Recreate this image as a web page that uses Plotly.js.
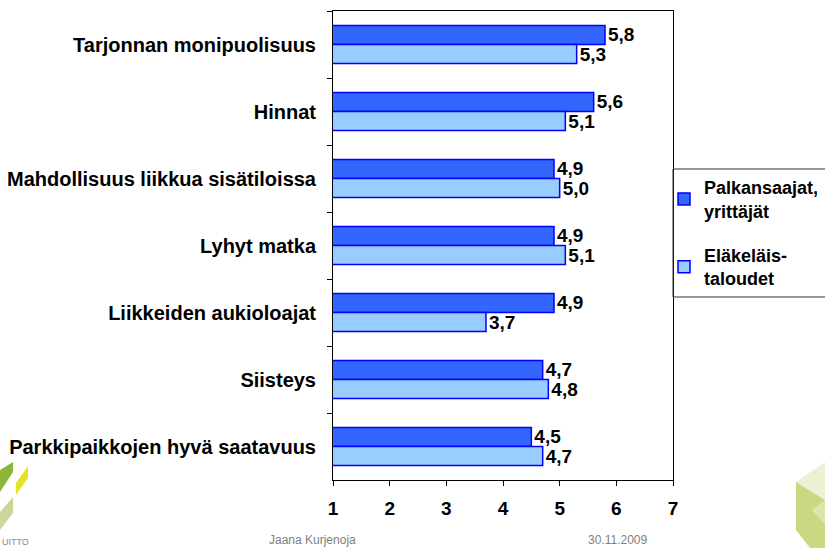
<!DOCTYPE html>
<html>
<head>
<meta charset="utf-8">
<script src="https://cdn.plot.ly/plotly-3.0.1.min.js"></script>
<style>html,body{margin:0;padding:0;background:#fff;}#chart{width:825px;height:548px;}</style>
</head>
<body>
<div id="chart"></div>
<script>
var categories = ["Tarjonnan monipuolisuus", "Hinnat", "Mahdollisuus liikkua sisätiloissa", "Lyhyt matka", "Liikkeiden aukioloajat", "Siisteys", "Parkkipaikkojen hyvä saatavuus"];
var seriesNames = ["Palkansaajat,<br>yrittäjät", "Eläkeläis-<br>taloudet"];
var palkansaajat = [5.8, 5.6, 4.9, 4.9, 4.9, 4.7, 4.5];
var elakelaiset = [5.3, 5.1, 5.0, 5.1, 3.7, 4.8, 4.7];
var xTicks = [1, 2, 3, 4, 5, 6, 7];

var W = 825, H = 548;
var L = 333, R = 673, T = 11, B = 480;
function px(x){ return (x - L) / (R - L); }
function py(y){ return (B - y) / (B - T); }
function path(pts){ return 'M' + pts.map(function(p){ return px(p[0]) + ',' + py(p[1]); }).join(' L') + ' Z'; }

var FAM = '"Liberation Sans", Arial, sans-serif';
var labelFont = {family: FAM, size: 19, color: '#000', weight: 'bold'};

var traces = [
  {type: 'bar', orientation: 'h', name: seriesNames[0], legendgroup: 'g1', y: categories, x: palkansaajat,
   marker: {color: '#3366FF', line: {color: '#0000FF', width: 1.5}},
   texttemplate: '<b>%{x:.1f}</b>', textposition: 'outside', cliponaxis: false, constraintext: 'none',
   textfont: labelFont, hoverinfo: 'skip'},
  {type: 'bar', orientation: 'h', name: seriesNames[1], legendgroup: 'g2', y: categories, x: elakelaiset,
   marker: {color: '#99CCFF', line: {color: '#0000FF', width: 1.5}},
   texttemplate: '<b>%{x:.1f}</b>', textposition: 'outside', cliponaxis: false, constraintext: 'none',
   textfont: labelFont, hoverinfo: 'skip'}
];

var shapes = [
  {type: 'rect', xref: 'paper', yref: 'paper', x0: 1, x1: px(840), y0: py(297), y1: py(169),
   line: {color: '#333', width: 1}, fillcolor: 'rgba(0,0,0,0)'},
  // bottom-left decoration
  {type: 'path', xref: 'paper', yref: 'paper', path: path([[0,470],[13,462],[13,472],[0,492]]), fillcolor: '#8DB53A', line: {width: 0}},
  {type: 'path', xref: 'paper', yref: 'paper', path: path([[28,466],[28,478],[16,495],[16,483]]), fillcolor: '#E6E22A', line: {width: 0}},
  {type: 'path', xref: 'paper', yref: 'paper', path: path([[13,497],[13,513],[0,530],[0,512]]), fillcolor: '#CBD69A', line: {width: 0}},
  // bottom-right decoration
  {type: 'path', xref: 'paper', yref: 'paper', path: path([[825,462],[825,500],[796,482]]), fillcolor: '#EEF0D4', line: {width: 0}},
  {type: 'path', xref: 'paper', yref: 'paper', path: path([[796,482],[825,500],[825,548],[810,548],[796,530]]), fillcolor: '#CAD882', line: {width: 0}},
  {type: 'path', xref: 'paper', yref: 'paper', path: path([[812,510],[825,500],[825,525]]), fillcolor: '#DDE6A8', line: {width: 0}}
];

var layout = {
  width: W, height: H,
  margin: {l: L, r: W - R, t: T, b: H - B, pad: 0, autoexpand: false},
  paper_bgcolor: '#fff', plot_bgcolor: '#fff',
  separators: ', ',
  barmode: 'group', bargap: 0.43, bargroupgap: 0,
  showlegend: true,
  legend: {xref: 'container', yref: 'container', x: 664 / W, xanchor: 'left', y: 1 - 233 / H, yanchor: 'middle',
           bgcolor: 'rgba(0,0,0,0)', borderwidth: 0, traceorder: 'grouped',
           font: {family: FAM, size: 18, color: '#000', weight: 'bold'},
           tracegroupgap: 18, itemwidth: 30},
  xaxis: {range: [1, 7], tickvals: xTicks, ticktext: xTicks.map(String), ticks: 'outside', ticklen: 5, tickcolor: '#000',
          showline: true, linecolor: '#000', linewidth: 1, mirror: true, showgrid: false, zeroline: false,
          tickfont: {family: FAM, size: 19, color: '#000', weight: 'bold'}, ticklabelstandoff: 6},
  yaxis: {type: 'category', autorange: 'reversed', ticks: 'outside', tickson: 'boundaries', ticklen: 5, tickcolor: '#000',
          showline: true, linecolor: '#000', linewidth: 1, mirror: true, showgrid: false,
          tickfont: {family: FAM, size: 20, color: '#000', weight: 'bold'}, ticklabelstandoff: 12},
  shapes: shapes,
  annotations: [
    {xref: 'paper', yref: 'paper', x: px(312), y: py(540), text: 'Jaana Kurjenoja', showarrow: false, xanchor: 'center', yanchor: 'middle',
     font: {family: FAM, size: 12, color: '#7f7f7f'}},
    {xref: 'paper', yref: 'paper', x: px(617), y: py(540), text: '30.11.2009', showarrow: false, xanchor: 'center', yanchor: 'middle',
     font: {family: FAM, size: 12, color: '#7f7f7f'}},
    {xref: 'paper', yref: 'paper', x: px(0), y: py(542), text: 'UITTO', showarrow: false, xanchor: 'left', yanchor: 'middle',
     font: {family: FAM, size: 9, color: '#888'}}
  ]
};

Plotly.newPlot('chart', traces, layout, {displayModeBar: false, staticPlot: true});
</script>
</body>
</html>
